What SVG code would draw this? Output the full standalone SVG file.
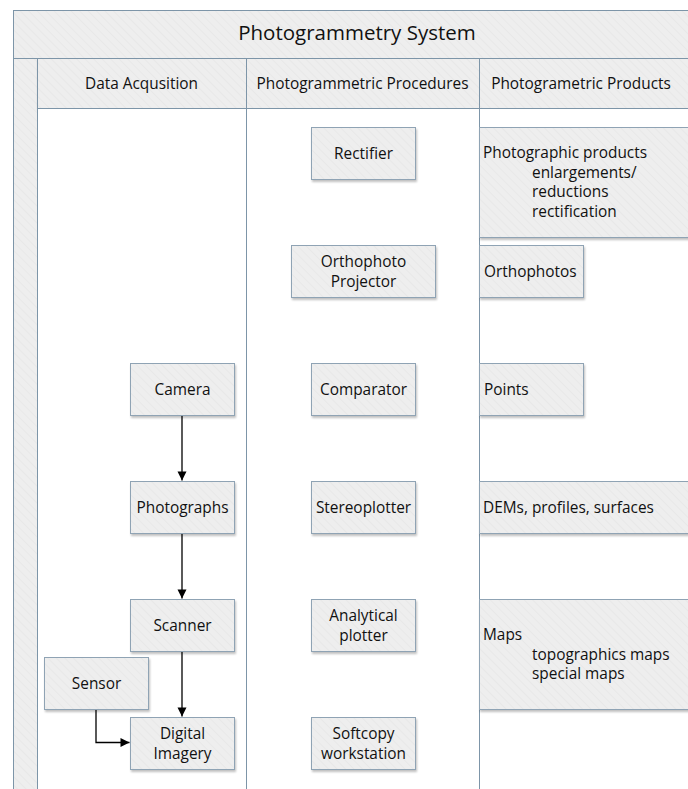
<svg xmlns="http://www.w3.org/2000/svg" width="688" height="789" viewBox="0 0 688 789">
<defs>
<pattern id="hatch" patternUnits="userSpaceOnUse" width="6" height="6" patternTransform="rotate(-45)">
<rect width="6" height="6" fill="#eeeeee"/>
<line x1="0" y1="0" x2="0" y2="6" stroke="#e6e6e6" stroke-width="1.5"/>
</pattern>
<filter id="sh" x="-10%" y="-10%" width="130%" height="140%">
<feGaussianBlur in="SourceAlpha" stdDeviation="1.2"/>
<feOffset dx="1" dy="2" result="b"/>
<feComponentTransfer><feFuncA type="linear" slope="0.25"/></feComponentTransfer>
<feMerge><feMergeNode/><feMergeNode in="SourceGraphic"/></feMerge>
</filter>
<marker id="arr" markerWidth="12" markerHeight="12" refX="10" refY="6" orient="auto" markerUnits="userSpaceOnUse">
<path d="M1,1.5 L10,6 L1,10.5 Z" fill="#000"/>
</marker>
</defs>
<style>
.box{fill:url(#hatch);stroke:#8fa3b4;stroke-width:1;filter:url(#sh)}
.lane{fill:none;stroke:#7d95a8;stroke-width:1}
.band{fill:url(#hatch);stroke:#7d95a8;stroke-width:1}
text{font-family:"Segoe UI","Open Sans","Noto Sans","Liberation Sans",sans-serif;font-size:15.4px;fill:#111}
.c{text-anchor:middle}
.title{font-size:20.5px}
.conn{fill:none;stroke:#000;stroke-width:1.3;marker-end:url(#arr)}
</style>
<rect width="688" height="789" fill="#fff"/>
<g id="pool">
<rect class="band" x="13.5" y="10.5" width="700" height="800"/>
<rect class="band" x="13.5" y="10.5" width="700" height="48"/>
<rect class="band" x="13.5" y="58.5" width="24" height="760"/>
<rect class="band" x="37.5" y="58.5" width="680" height="50" filter="url(#sh)"/>
<rect x="38" y="109" width="680" height="700" fill="#fff"/>
<line class="lane" x1="246.5" y1="58.5" x2="246.5" y2="800"/>
<line class="lane" x1="479.5" y1="58.5" x2="479.5" y2="800"/>
<line class="lane" x1="37.5" y1="108.5" x2="37.5" y2="800"/>
<line class="lane" x1="37.5" y1="108.5" x2="700" y2="108.5"/>
<text class="c title" x="357" y="40">Photogrammetry System</text>
<text class="c" x="141.5" y="89">Data Acqusition</text>
<text class="c" x="362.5" y="89">Photogrammetric Procedures</text>
<text class="c" x="581" y="89">Photogrametric Products</text>
</g>
<g id="connectors">
<path class="conn" d="M182,415.5 V480.5"/>
<path class="conn" d="M182,533.5 V598.5"/>
<path class="conn" d="M182,651 V716.5"/>
<path class="conn" d="M96,709 V742.5 H129.5"/>
</g>
<g id="camera"><rect class="box" x="130.5" y="363.5" width="104" height="52"/><text class="c" x="182.5" y="395">Camera</text></g>
<g id="photographs"><rect class="box" x="130.5" y="481.5" width="104" height="52"/><text class="c" x="182.5" y="513">Photographs</text></g>
<g id="scanner"><rect class="box" x="130.5" y="599.5" width="104" height="52"/><text class="c" x="182.5" y="631">Scanner</text></g>
<g id="sensor"><rect class="box" x="44.5" y="657.5" width="104" height="52"/><text class="c" x="96.5" y="689">Sensor</text></g>
<g id="digital-imagery"><rect class="box" x="130.5" y="717.5" width="104" height="52"/><text class="c" x="182.5" y="739">Digital</text><text class="c" x="182.5" y="758.6">Imagery</text></g>
<g id="rectifier"><rect class="box" x="311.5" y="127.5" width="104" height="52"/><text class="c" x="363.5" y="159">Rectifier</text></g>
<g id="orthophoto-projector"><rect class="box" x="291.5" y="245.5" width="144" height="52"/><text class="c" x="363.5" y="267">Orthophoto</text><text class="c" x="363.5" y="286.6">Projector</text></g>
<g id="comparator"><rect class="box" x="311.5" y="363.5" width="104" height="52"/><text class="c" x="363.5" y="395">Comparator</text></g>
<g id="stereoplotter"><rect class="box" x="311.5" y="481.5" width="104" height="52"/><text class="c" x="363.5" y="513">Stereoplotter</text></g>
<g id="analytical-plotter"><rect class="box" x="311.5" y="599.5" width="104" height="52"/><text class="c" x="363.5" y="621">Analytical</text><text class="c" x="363.5" y="640.6">plotter</text></g>
<g id="softcopy-workstation"><rect class="box" x="311.5" y="717.5" width="104" height="52"/><text class="c" x="363.5" y="739">Softcopy</text><text class="c" x="363.5" y="758.6">workstation</text></g>
<g id="photographic-products"><rect class="box" x="479.5" y="127.5" width="230" height="110"/><text x="483" y="158">Photographic products</text><text x="532" y="177.5">enlargements/</text><text x="532" y="197">reductions</text><text x="532" y="216.5">rectification</text></g>
<g id="orthophotos"><rect class="box" x="479.5" y="245.5" width="104" height="52"/><text x="484" y="277">Orthophotos</text></g>
<g id="points"><rect class="box" x="479.5" y="363.5" width="104" height="52"/><text x="484" y="395">Points</text></g>
<g id="dems"><rect class="box" x="479.5" y="481.5" width="230" height="52"/><text x="483" y="513">DEMs, profiles, surfaces</text></g>
<g id="maps"><rect class="box" x="479.5" y="599.5" width="230" height="110"/><text x="483" y="640">Maps</text><text x="532" y="659.5">topographics maps</text><text x="532" y="679">special maps</text></g>
</svg>
